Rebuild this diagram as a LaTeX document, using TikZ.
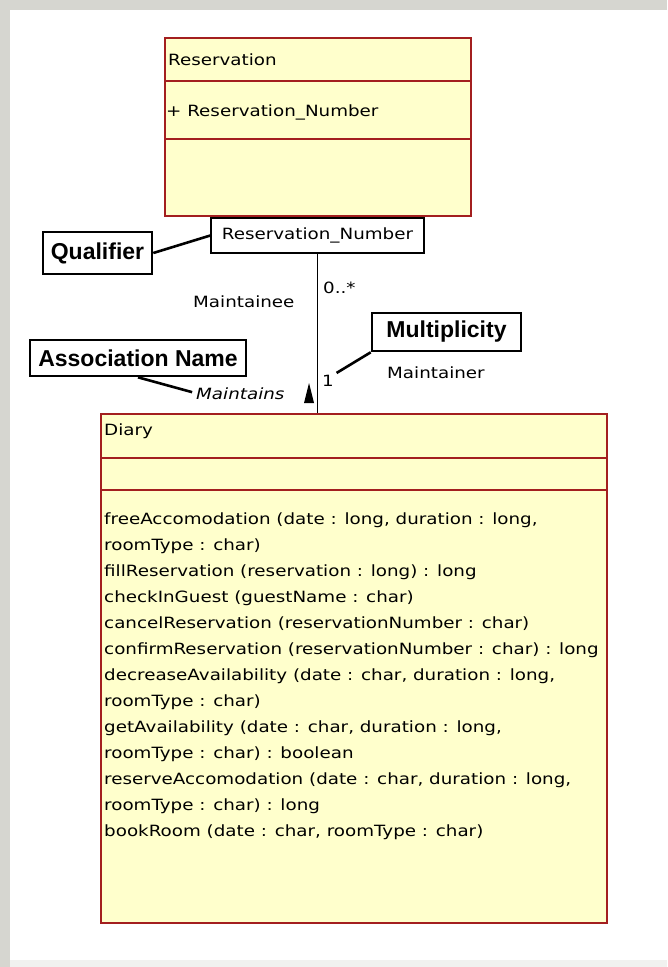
\documentclass[tikz,border=0pt]{standalone}
\usepackage{fontspec}
\setmainfont{DejaVu Sans}[FakeStretch=1.18]
\newfontfamily\calloutfamily{Liberation Sans}
\usepackage{xcolor}
\usetikzlibrary{positioning,calc}
\definecolor{classfill}{HTML}{FFFFCC}
\definecolor{classred}{HTML}{A31F1F}
\definecolor{framegray}{HTML}{D6D6D0}
\definecolor{framelight}{HTML}{F1F1EF}
\newcommand{\classfont}{\fontsize{15.5}{26}\selectfont}
\newcommand{\calloutfont}{\calloutfamily\bfseries\fontsize{23}{26}\selectfont}
\tikzset{
  classbox/.style={
    draw=classred,
    fill=classfill,
    line width=1.8pt,
    inner sep=0pt
  },
  classline/.style={draw=classred, line width=1.8pt},
  classtext/.style={anchor=base west, inner sep=0pt, font=\classfont},
  qualbox/.style={
    draw=black,
    fill=white,
    line width=1.4pt,
    inner sep=0pt,
    font=\classfont
  },
  notebox/.style={
    draw=black,
    fill=white,
    line width=2.6pt,
    inner sep=0pt,
    font=\calloutfont
  },
  noteline/.style={draw=black, line width=2.6pt},
  assocline/.style={draw=black, line width=1.5pt}
}

\begin{document}
\begin{tikzpicture}[x=1pt, y=-1pt]
\useasboundingbox (0,0) rectangle (667,967);
\fill[framegray] (0,0) rectangle (667,967);
\fill[white] (10,10) rectangle (667,960);
\fill[framelight] (10,960) rectangle (667,967);

% classes
\node[classbox, minimum width=306pt, minimum height=178pt] (reservation) at (318,127) {};
\draw[classline] ($(reservation.north west)+(0,44)$) -- ($(reservation.north east)+(0,44)$);
\draw[classline] ($(reservation.north west)+(0,102)$) -- ($(reservation.north east)+(0,102)$);
\node[classtext] (resname) at (168,65) {Reservation};
\node[classtext] (resattr) at (166,116) {+ Reservation\_Number};

\node[qualbox, minimum width=213pt, minimum height=35pt] (qualifier) at (317.5,235.5) {Reservation\_Number};

\node[classbox, minimum width=506pt, minimum height=509pt] (diary) at (354,668.5) {};
\draw[classline] ($(diary.north west)+(0,45)$) -- ($(diary.north east)+(0,45)$);
\draw[classline] ($(diary.north west)+(0,77)$) -- ($(diary.north east)+(0,77)$);
\node[classtext] (diaryname) at (104,435) {Diary};
\node[classtext, anchor=north west, align=left] (diaryops) at (104,513) {freeAccomodation (date : long, duration : long,\\
roomType : char)\\
fillReservation (reservation : long) : long\\
checkInGuest (guestName : char)\\
cancelReservation (reservationNumber : char)\\
confirmReservation (reservationNumber : char) : long\\
decreaseAvailability (date : char, duration : long,\\
roomType : char)\\
getAvailability (date : char, duration : long,\\
roomType : char) : boolean\\
reserveAccomodation (date : char, duration : long,\\
roomType : char) : long\\
bookRoom (date : char, roomType : char)};

% association
\draw[assocline] (qualifier.south) -- (qualifier.south |- diary.north);
\node[classtext] (manyend) at (323,293) {0..*};
\node[classtext] (maintainee) at (193,307) {Maintainee};
\node[classtext] (oneend) at (322,386) {1};
\node[classtext] (maintainer) at (387,378) {Maintainer};
\node[classtext, font=\classfont\itshape] (assocname) at (196,399) {Maintains};
\fill (309,383) -- (314,403) -- (304,403) -- cycle;

% callouts
\node[notebox, minimum width=109pt, minimum height=42pt] (qualnote) at (97.5,253) {Qualifier};
\node[notebox, minimum width=216pt, minimum height=36pt] (assocnote) at (138,358) {Association Name};
\node[notebox, minimum width=149pt, minimum height=38pt] (multnote) at (446.5,332) {Multiplicity};
\draw[noteline] (qualnote.east) -- (qualifier.west);
\draw[noteline, shorten >=4pt] (assocnote.south) -- (assocname.west);
\draw[noteline, shorten >=3pt] (multnote.south west) -- (oneend.north east);
\end{tikzpicture}
\end{document}
